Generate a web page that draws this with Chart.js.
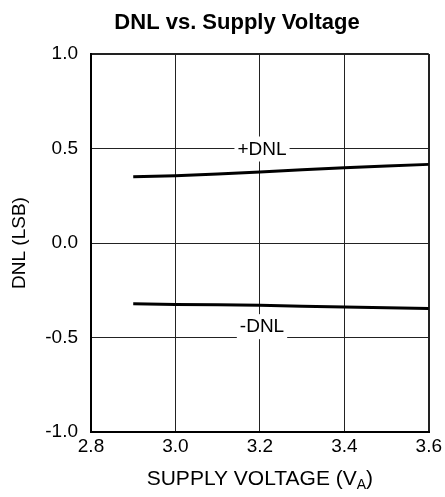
<!DOCTYPE html>
<html>
<head>
<meta charset="utf-8">
<title>DNL vs. Supply Voltage</title>
<script src="https://cdn.jsdelivr.net/npm/chart.js@4.4.1/dist/chart.umd.min.js"></script>
<style>
  html, body { margin: 0; padding: 0; background: #fff; }
  #dnlChart { display: block; }
</style>
</head>
<body>
<canvas id="dnlChart" width="445" height="497"></canvas>
<script>
"use strict";

// supply voltage sweep (V)
const supplyVoltage = [2.9, 3.0, 3.1, 3.2, 3.3, 3.4, 3.5, 3.6];
// worst-case DNL in LSB
const dnlPositive = [0.35, 0.356, 0.365, 0.376, 0.387, 0.398, 0.407, 0.416];
const dnlNegative = [-0.322, -0.325, -0.327, -0.33, -0.334, -0.338, -0.342, -0.346];

// axis ticks
const xTicks = [2.8, 3.0, 3.2, 3.4, 3.6];
const yTicks = [-1.0, -0.5, 0.0, 0.5, 1.0];

// curve names written inside the plot (data coordinates)
const curveLabels = [
  { text: "+DNL", x: 3.205, y: 0.5 },
  { text: "-DNL", x: 3.205, y: -0.44 },
];

const FONT = "'Liberation Sans', Arial, Helvetica, sans-serif";

const toPoints = (ys) => supplyVoltage.map((v, i) => ({ x: v, y: ys[i] }));

// edge lines of the plot box are a bit heavier than the inner grid
const isEdge = (value, list) =>
  Math.abs(value - list[0]) < 1e-6 || Math.abs(value - list[list.length - 1]) < 1e-6;

// titles and the in-plot curve names
const chartText = {
  id: "chartText",
  afterDraw(chart) {
    const { ctx, chartArea, scales: { x, y } } = chart;
    ctx.save();
    ctx.textBaseline = "middle";
    ctx.textAlign = "center";

    ctx.font = `19px ${FONT}`;
    curveLabels.forEach((lbl) => {
      const px = x.getPixelForValue(lbl.x);
      const py = y.getPixelForValue(lbl.y);
      const w = ctx.measureText(lbl.text).width;
      ctx.fillStyle = "#fff";
      ctx.fillRect(px - w / 2 - 3, py - 12, w + 6, 25);
      ctx.fillStyle = "#000";
      ctx.fillText(lbl.text, px, py + 1);
    });

    // main title
    ctx.font = `bold 22px ${FONT}`;
    ctx.fillStyle = "#000";
    ctx.fillText("DNL vs. Supply Voltage", 237, 23);

    // x axis title with subscript
    const main = "SUPPLY VOLTAGE (V";
    const sub = "A";
    const close = ")";
    ctx.font = `21px ${FONT}`;
    const wMain = ctx.measureText(main).width;
    const wClose = ctx.measureText(close).width;
    ctx.font = `14px ${FONT}`;
    const wSub = ctx.measureText(sub).width;
    const total = wMain + wSub + wClose;
    let cx = (chartArea.left + chartArea.right) / 2 - total / 2;
    const cy = 479;
    ctx.textAlign = "left";
    ctx.font = `21px ${FONT}`;
    ctx.fillText(main, cx, cy);
    cx += wMain;
    ctx.font = `14px ${FONT}`;
    ctx.fillText(sub, cx, cy + 6);
    cx += wSub;
    ctx.font = `21px ${FONT}`;
    ctx.fillText(close, cx, cy);
    ctx.restore();
  },
};

const lineStyle = {
  borderColor: "#000",
  borderWidth: 3,
  pointRadius: 0,
  fill: false,
  tension: 0,
};

new Chart(document.getElementById("dnlChart"), {
  type: "line",
  data: {
    datasets: [
      { label: "+DNL", data: toPoints(dnlPositive), ...lineStyle },
      { label: "-DNL", data: toPoints(dnlNegative), ...lineStyle },
    ],
  },
  options: {
    responsive: false,
    animation: false,
    devicePixelRatio: 1,
    layout: { padding: { top: 54, right: 16, left: 0, bottom: 0 } },
    plugins: {
      legend: { display: false },
      title: { display: false },
      tooltip: { enabled: false },
    },
    scales: {
      x: {
        type: "linear",
        min: xTicks[0],
        max: xTicks[xTicks.length - 1],
        afterBuildTicks: (scale) => {
          scale.ticks = xTicks.map((v) => ({ value: v }));
        },
        afterFit: (scale) => {
          scale.height = 65;
        },
        ticks: {
          color: "#000",
          font: { family: FONT, size: 19 },
          padding: 3,
          maxRotation: 0,
          callback: (v) => Number(v).toFixed(1),
        },
        grid: {
          color: "#222",
          drawTicks: false,
          lineWidth: (c) => (c.tick && isEdge(c.tick.value, xTicks) ? 2 : 1),
        },
        border: { color: "#000", width: 2 },
      },
      y: {
        type: "linear",
        min: yTicks[0],
        max: yTicks[yTicks.length - 1],
        afterBuildTicks: (scale) => {
          scale.ticks = yTicks.map((v) => ({ value: v }));
        },
        afterFit: (scale) => {
          scale.width = 91;
        },
        ticks: {
          color: "#000",
          font: { family: FONT, size: 19 },
          padding: 13,
          callback: (v) => Number(v).toFixed(1),
        },
        grid: {
          color: "#222",
          drawTicks: false,
          lineWidth: (c) => (c.tick && isEdge(c.tick.value, yTicks) ? 2 : 1),
        },
        border: { color: "#000", width: 2 },
        title: {
          display: true,
          text: "DNL (LSB)",
          color: "#000",
          font: { family: FONT, size: 19 },
          padding: { top: 8, bottom: 0 },
        },
      },
    },
  },
  plugins: [chartText],
});
</script>
</body>
</html>
